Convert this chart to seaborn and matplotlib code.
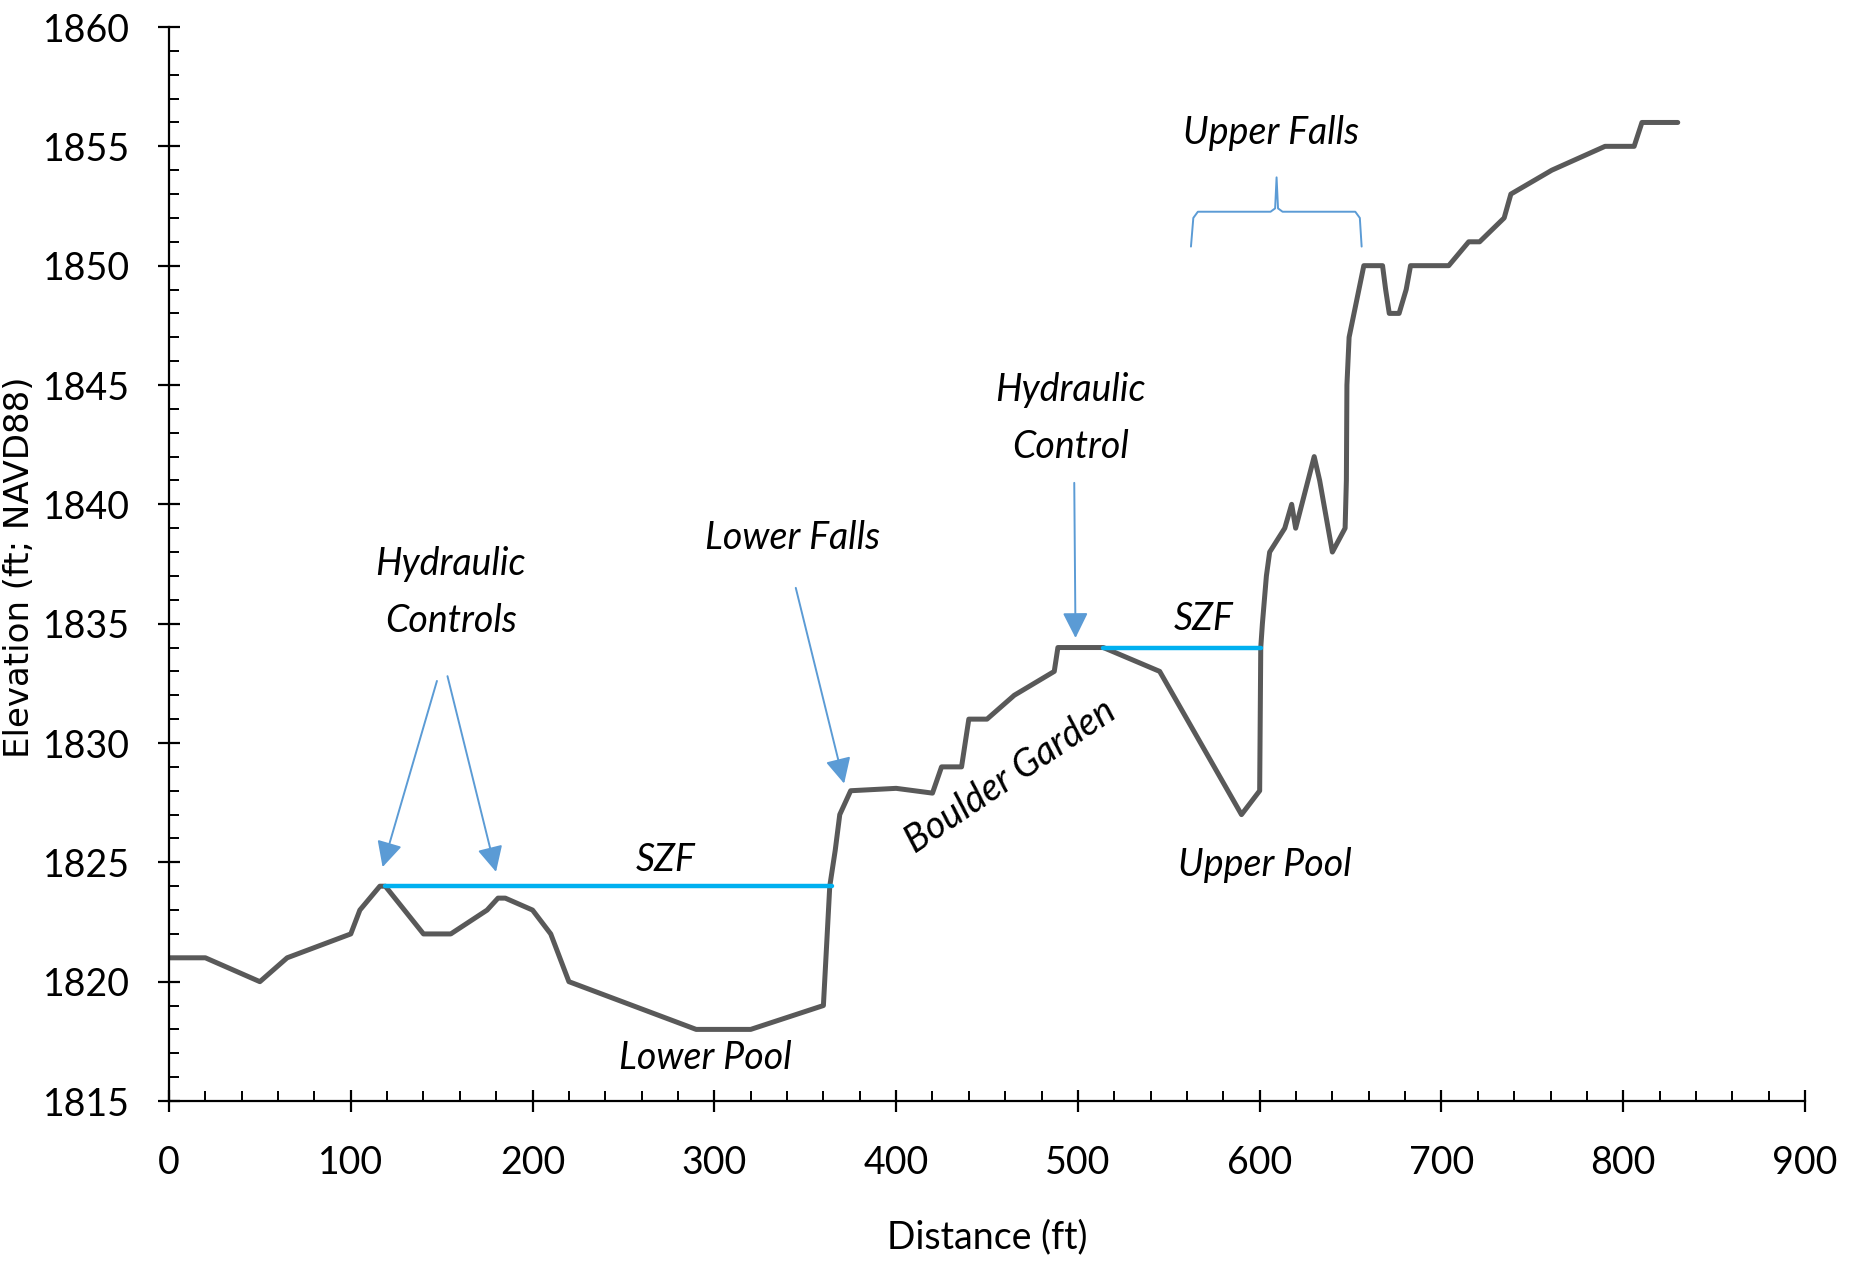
import matplotlib
matplotlib.use("Agg")
import matplotlib.pyplot as plt
import seaborn as sns
import pandas as pd
from matplotlib.ticker import MultipleLocator
from matplotlib.patches import FancyArrowPatch

# ---- data ----
distance_ft = [0, 20, 50, 65, 100, 105, 116, 119, 140, 155, 175, 181, 185, 200, 210, 220,
               290, 320, 360, 363.5, 366.5, 369, 375, 400, 420, 425, 436, 440, 450, 465,
               487, 489, 514, 545, 590, 600, 600.6, 601.5, 603.7, 605.5, 613.8, 617.6,
               619.8, 630, 633, 640, 647, 647.7, 648, 649.2, 657.3, 667.6, 669.3, 671.3,
               676.7, 680.6, 683, 704, 715, 721, 734.5, 738.2, 760.7, 790, 806, 810.3, 830]
elevation_ft = [1821, 1821, 1820, 1821, 1822, 1823, 1824, 1824, 1822, 1822, 1823, 1823.5,
                1823.5, 1823, 1822, 1820, 1818, 1818, 1819, 1824, 1825.5, 1827, 1828,
                1828.1, 1827.9, 1829, 1829, 1831, 1831, 1832, 1833, 1834, 1834, 1833,
                1827, 1828, 1834, 1835, 1837, 1838, 1839, 1840, 1839, 1842, 1841, 1838,
                1839, 1841, 1845, 1847, 1850, 1850, 1849, 1848, 1848, 1849, 1850, 1850,
                1851, 1851, 1852, 1853, 1854, 1855, 1855, 1856, 1856]

szf_lower_x = [119, 364.5]
szf_lower_y = [1824, 1824]
szf_upper_x = [514, 600.6]
szf_upper_y = [1834, 1834]

x_ticks = [0, 100, 200, 300, 400, 500, 600, 700, 800, 900]
y_ticks = [1815, 1820, 1825, 1830, 1835, 1840, 1845, 1850, 1855, 1860]

profile = pd.DataFrame({"Distance (ft)": distance_ft, "Elevation": elevation_ft})
szf_lo = pd.DataFrame({"x": szf_lower_x, "y": szf_lower_y})
szf_up = pd.DataFrame({"x": szf_upper_x, "y": szf_upper_y})

sns.set_theme(style="ticks")
plt.rcParams["font.family"] = ["Lato", "DejaVu Sans"]

fig = plt.figure(figsize=(18.51, 12.61), dpi=100)
ax = fig.add_axes([169 / 1851, 1 - 1101 / 1261, (1805 - 169) / 1851, (1101 - 27) / 1261])

sns.lineplot(data=profile, x="Distance (ft)", y="Elevation", sort=False, estimator=None,
             color="#595959", linewidth=3.6, ax=ax)
sns.lineplot(data=szf_lo, x="x", y="y", sort=False, estimator=None,
             color="#00B0F0", linewidth=3.2, ax=ax)
sns.lineplot(data=szf_up, x="x", y="y", sort=False, estimator=None,
             color="#00B0F0", linewidth=3.2, ax=ax)

ax.set_xlim(0, 900)
ax.set_ylim(1815, 1860)
ax.set_xticks(x_ticks)
ax.set_yticks(y_ticks)
ax.xaxis.set_minor_locator(MultipleLocator(20))
ax.yaxis.set_minor_locator(MultipleLocator(1))
ax.tick_params(which="major", direction="inout", length=16, width=1.6, color="black",
               labelsize=27, labelcolor="black")
ax.tick_params(axis="x", which="major", pad=24)
ax.tick_params(axis="y", which="major", pad=20)
ax.tick_params(which="minor", direction="in", length=7, width=1.4, color="black")
for s in ["top", "right"]:
    ax.spines[s].set_visible(False)
for s in ["left", "bottom"]:
    ax.spines[s].set_linewidth(1.6)
    ax.spines[s].set_color("black")

ax.set_xlabel("Distance (ft)", fontsize=27, color="black")
ax.xaxis.set_label_coords(0.5, -0.127)
ax.xaxis.label.set_va("center")
ax.set_ylabel("Elevation (ft; NAVD88)", fontsize=24.5, color="black", family="DejaVu Sans")
ax.yaxis.set_label_coords(-0.0915, 0.497)
ax.yaxis.label.set_va("center")

txt = dict(fontsize=27, style="italic", ha="center", va="center", color="black")
ax.text(155, 1836.3, "Hydraulic\nControls", linespacing=1.7, **txt)
ax.text(343, 1838.6, "Lower Falls", **txt)
ax.text(496, 1843.6, "Hydraulic\nControl", linespacing=1.7, **txt)
ax.text(273, 1825.1, "SZF", **txt)
ax.text(569, 1835.2, "SZF", **txt)
ax.text(463, 1828.6, "Boulder Garden", rotation=34, rotation_mode="anchor", **txt)
ax.text(603, 1824.9, "Upper Pool", **txt)
ax.text(295, 1816.8, "Lower Pool", **txt)
ax.text(606.5, 1855.55, "Upper Falls", **txt)

arrow_col = "#5B9BD5"
arrows = [((147.4, 1832.6), (117.5, 1824.8)),
          ((153.2, 1832.8), (179.9, 1824.6)),
          ((344.8, 1836.5), (371.4, 1828.3)),
          ((498.0, 1840.9), (498.7, 1834.4))]
for (x0, y0), (x1, y1) in arrows:
    ax.add_patch(FancyArrowPatch((x0, y0), (x1, y1), arrowstyle="-|>,head_length=12,head_width=6",
                                 mutation_scale=1.3, color=arrow_col, linewidth=1.4,
                                 shrinkA=0, shrinkB=0))

# curly brace for Upper Falls
ax.plot([562.2, 563.5, 566, 606, 608.5, 609.3, 610.1, 612.6, 652.6, 655.1, 656.1],
        [1850.8, 1852.0, 1852.26, 1852.26, 1852.4, 1853.7, 1852.4, 1852.26, 1852.26, 1852.0, 1850.8],
        color=arrow_col, lw=1.4)

fig.savefig("out.png", dpi=100, facecolor="white")
